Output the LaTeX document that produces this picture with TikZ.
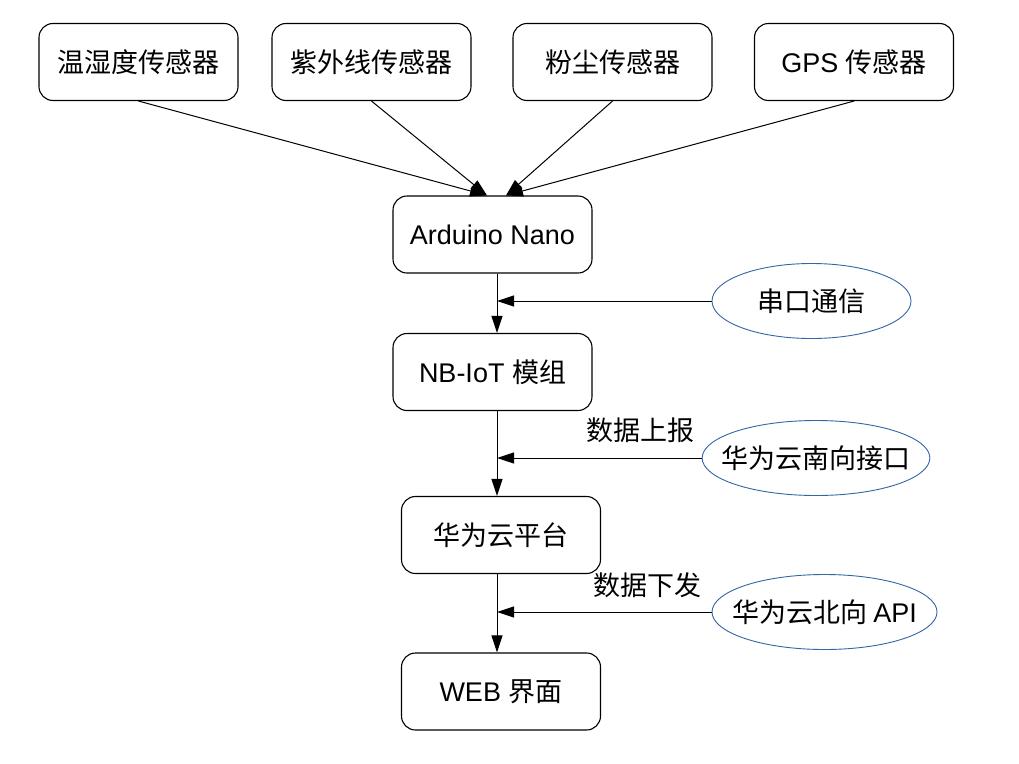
\documentclass[tikz,border=0pt]{standalone}
\usepackage{fontspec}
\setmainfont{Liberation Sans}
\newfontfamily\cjk{Noto Sans CJK SC}
\usetikzlibrary{shapes.geometric,arrows.meta}
\definecolor{ovalblue}{RGB}{52,101,164}

\begin{document}
\begin{tikzpicture}[x=1pt,y=-1pt,
    box/.style={draw,line width=1.1pt,rounded corners=14pt,inner sep=0pt,
        minimum width=199pt,minimum height=77pt,font=\fontsize{27}{32}\selectfont},
    oval/.style={draw=ovalblue,line width=0.9pt,ellipse,inner ysep=0pt,inner xsep=-14pt,
        minimum height=75pt,font=\fontsize{27}{32}\selectfont},
    lbl/.style={font=\fontsize{27}{32}\selectfont},
    arr/.style={line width=1pt,-{Triangle[length=17pt,width=11pt]}}]
    \useasboundingbox (0,0) rectangle (1019,763);

    \node[box] (th)  at (138.5,62) {\cjk 温湿度传感器};
    \node[box] (uv)  at (371.5,62) {\cjk 紫外线传感器};
    \node[box] (pm)  at (612.5,62) {\cjk 粉尘传感器};
    \node[box] (gps) at (854,62)   {GPS {\cjk 传感器}};

    \node[box] (ard)   at (492.5,234.5) {Arduino Nano};
    \node[box] (nb)    at (492.5,372)   {NB-IoT {\cjk 模组}};
    \node[box] (cloud) at (501,535)     {\cjk 华为云平台};
    \node[box] (web)   at (501,691.5)   {WEB {\cjk 界面}};

    \node[oval,minimum width=199pt] (uart)  at (811.5,301) {\cjk 串口通信};
    \node[oval,minimum width=227pt] (south) at (816,458)   {\cjk 华为云南向接口};
    \node[oval,minimum width=225pt] (north) at (824.5,612) {\cjk 华为云北向 {\rmfamily API}};

    \node[lbl] (up)   at (640,430) {\cjk 数据上报};
    \node[lbl] (down) at (647,585) {\cjk 数据下发};

    \coordinate (trunk) at (497,0);

    \draw[arr] (th.south)  -- ([xshift=-5.5pt]ard.north);
    \draw[arr] (uv.south)  -- ([xshift=-5.5pt]ard.north);
    \draw[arr] (pm.south)  -- ([xshift=13.5pt]ard.north);
    \draw[arr] (gps.south) -- ([xshift=13.5pt]ard.north);

    \draw[arr] (ard.south -| trunk)   -- (nb.north -| trunk);
    \draw[arr] (nb.south -| trunk)    -- (cloud.north -| trunk);
    \draw[arr] (cloud.south -| trunk) -- (web.north -| trunk);

    \draw[arr] (uart.west)  -- (uart.west -| trunk);
    \draw[arr] (south.west) -- (south.west -| trunk);
    \draw[arr] (north.west) -- (north.west -| trunk);

\end{tikzpicture}
\end{document}
